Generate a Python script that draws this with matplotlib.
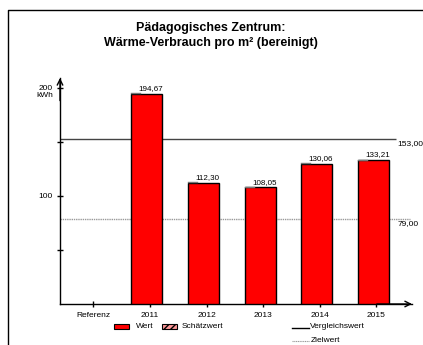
import numpy as np
import matplotlib.pyplot as plt
from matplotlib.patches import Rectangle

plt.rcParams['font.family'] = ['Liberation Sans', 'DejaVu Sans']

categories = ['Referenz', '2011', '2012', '2013', '2014', '2015']
wert = [np.nan, 194.67, 112.30, 108.05, 130.06, 133.21]
vergleichswert = 153.00
zielwert = 79.00

W, H = 423, 345
fig = plt.figure(figsize=(W / 100, H / 100), dpi=100)

# overlay in pixel units for frame, title and legend
bg = fig.add_axes([0, 0, 1, 1])
bg.set_xlim(0, W)
bg.set_ylim(H, 0)
bg.axis('off')
bg.plot([8, 8, W + 5], [H + 5, 10, 10], color='black', lw=1.0)

bg.text(211, 28, 'Pädagogisches Zentrum:', ha='center', va='center',
        fontsize=9, fontweight='bold')
bg.text(211, 43, 'Wärme-Verbrauch pro m² (bereinigt)', ha='center', va='center',
        fontsize=9, fontweight='bold')

# main plot area
x0, x1 = 60, 412
y0, y1 = 304, 78
ax = fig.add_axes([x0 / W, (H - y0) / H, (x1 - x0) / W, (y0 - y1) / H])
ax.patch.set_alpha(0)
step = 56.6
ax.set_xlim((x0 - 93.3) / step, (x1 - 93.3) / step)
ax.set_ylim(0, (y0 - y1) / 1.08)

x = np.arange(len(categories))
vals = np.array(wert, dtype=float)
bw = 0.55
off = -0.053
ax.bar(x + off, vals, width=bw, color='#ff0000', edgecolor='black', lw=1.0, zorder=3)
for xi, v in zip(x, vals):
    if np.isnan(v):
        continue
    left = xi + off - bw / 2
    ax.plot([left, left + 0.16], [v + 0.5, v + 0.5], color='#777777', lw=1.0, zorder=4)
    ax.text(xi + 0.02, v + 1.5, f'{v:.2f}'.replace('.', ','), ha='center', va='bottom',
            fontsize=5.8)

xend = (396 - 93.3) / step
xl = ax.get_xlim()[0]
ax.hlines(vergleichswert, xl, xend, color='#444444', lw=1.0, zorder=2)
ax.hlines(zielwert, xl, xend + 0.25, color='#999999', lw=1.0, linestyles=(0, (1, 0.6)), zorder=2)
ax.text(xend + 0.03, vergleichswert - 1.5, f'{vergleichswert:.2f}'.replace('.', ','),
        ha='left', va='top', fontsize=6)
ax.text(xend + 0.03, zielwert - 1.5, f'{zielwert:.2f}'.replace('.', ','),
        ha='left', va='top', fontsize=6)

for s in ['top', 'right']:
    ax.spines[s].set_visible(False)
ax.spines['left'].set_linewidth(1.0)
ax.spines['bottom'].set_linewidth(1.0)
ax.annotate('', xy=(0, 1.0), xytext=(0, 0.9), xycoords='axes fraction',
            arrowprops=dict(arrowstyle='->', lw=1.0, color='black', shrinkA=0, shrinkB=0))
ax.annotate('', xy=(1.0, 0), xytext=(0.9, 0), xycoords='axes fraction',
            arrowprops=dict(arrowstyle='->', lw=1.0, color='black', shrinkA=0, shrinkB=0))

ax.set_xticks(x)
ax.set_xticklabels(categories, fontsize=6)
ax.set_yticks([100, 200])
ax.set_yticklabels(['100', '200'], fontsize=6)
ax.set_yticks([50, 150], minor=True)
ax.tick_params(axis='both', which='major', direction='inout', length=5, width=1.0, pad=3)
ax.tick_params(axis='y', which='minor', direction='inout', length=4, width=1.0)
ax.text(-0.02, 200 - 4, 'kWh', transform=ax.get_yaxis_transform(), ha='right', va='top',
        fontsize=6)

# legend
bg.add_patch(Rectangle((114, 324), 15, 5, facecolor='#ff0000', edgecolor='black', lw=0.8))
bg.text(136, 327, 'Wert', ha='left', va='center', fontsize=6)
bg.add_patch(Rectangle((162, 324), 15, 5, facecolor='#ff9999', edgecolor='black', lw=0.8,
                       hatch='/////'))
bg.text(182, 327, 'Schätzwert', ha='left', va='center', fontsize=6)
bg.plot([292, 309], [328, 328], color='black', lw=1.0)
bg.text(310, 327, 'Vergleichswert', ha='left', va='center', fontsize=6)
bg.plot([292, 309], [341, 341], color='#999999', lw=0.8, linestyle=(0, (1, 0.6)))
bg.text(311, 340, 'Zielwert', ha='left', va='center', fontsize=6)

fig.savefig('out.png', dpi=100)
